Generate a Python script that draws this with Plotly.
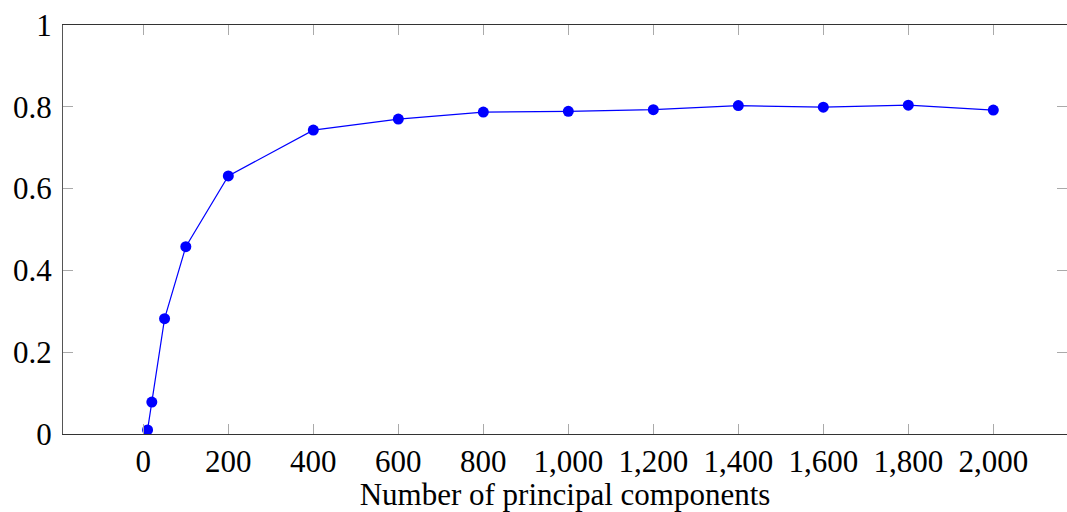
import plotly.graph_objects as go

components = [10, 20, 50, 100, 200, 400, 600, 800, 1000, 1200, 1400, 1600, 1800, 2000]
scores = [0.010, 0.078, 0.282, 0.458, 0.631, 0.743, 0.770, 0.787, 0.789, 0.793, 0.803, 0.799, 0.804, 0.792]

x_ticks = [0, 200, 400, 600, 800, 1000, 1200, 1400, 1600, 1800, 2000]
x_tick_labels = ["0", "200", "400", "600", "800", "1,000", "1,200", "1,400", "1,600", "1,800", "2,000"]
y_ticks = [0, 0.2, 0.4, 0.6, 0.8, 1]
y_tick_labels = ["0", "0.2", "0.4", "0.6", "0.8", "1"]

FONT = "Liberation Serif"

fig = go.Figure()
fig.add_trace(go.Scatter(
    x=components, y=scores, mode="lines+markers",
    line=dict(color="#0000ff", width=1.2),
    marker=dict(color="#0000ff", size=11),
    showlegend=False,
))
# invisible trace for right-side mirrored ticks
fig.add_trace(go.Scatter(x=[components[0]], y=[scores[0]], yaxis="y2", mode="markers",
                         marker=dict(opacity=0), showlegend=False, hoverinfo="skip"))

fig.update_layout(
    width=1067, height=512,
    margin=dict(l=63, r=0, t=25, b=78, autoexpand=False),
    paper_bgcolor="white", plot_bgcolor="white",
    font=dict(family=FONT, size=31, color="black"),
    xaxis=dict(
        range=[-189, 2173.4], tickvals=x_ticks, ticktext=x_tick_labels,
        ticks="inside", ticklen=10, tickwidth=1, tickcolor="#aaaaaa",
        showline=True, linecolor="#333333", linewidth=1.3, mirror="ticks",
        showgrid=False, zeroline=False,
        tickfont=dict(family=FONT, size=31),
        title=dict(text="Number of principal components", font=dict(family=FONT, size=31), standoff=2),
        automargin=False,
    ),
    yaxis=dict(
        range=[0, 1], tickvals=y_ticks, ticktext=y_tick_labels,
        ticks="inside", ticklen=10, tickwidth=1, tickcolor="#aaaaaa",
        showline=True, linecolor="#555555", linewidth=1.3,
        showgrid=False, zeroline=False, ticklabelstandoff=4,
        tickfont=dict(family=FONT, size=31),
        automargin=False,
    ),
    yaxis2=dict(
        range=[0, 1], tickvals=y_ticks, overlaying="y", side="right",
        ticks="inside", ticklen=10, tickwidth=1, tickcolor="#aaaaaa",
        showticklabels=False, showline=False, showgrid=False, zeroline=False,
    ),
)

fig.write_html("out.html")
